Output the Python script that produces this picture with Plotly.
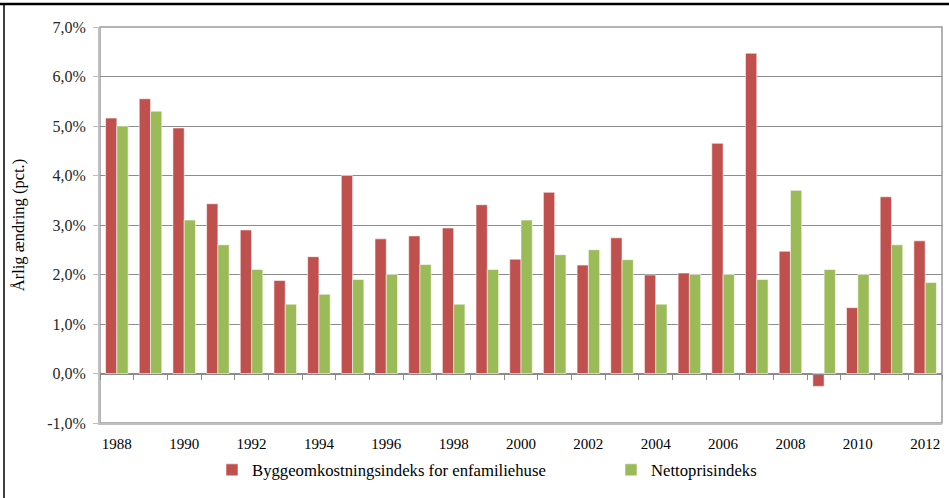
import numpy as np
import plotly.graph_objects as go

years = list(range(1988, 2013))
bygge = [5.16, 5.55, 4.96, 3.43, 2.90, 1.88, 2.36, 4.00, 2.72, 2.78, 2.94, 3.41,
         2.31, 3.66, 2.19, 2.74, 1.99, 2.03, 4.65, 6.47, 2.47, -0.26, 1.33, 3.57, 2.68]
netto = [5.0, 5.3, 3.1, 2.6, 2.1, 1.4, 1.6, 1.9, 2.0, 2.2, 1.4, 2.1,
         3.1, 2.4, 2.5, 2.3, 1.4, 2.0, 2.0, 1.9, 3.7, 2.1, 2.0, 2.6, 1.84]
name_bygge = "Byggeomkostningsindeks for enfamiliehuse"
name_netto = "Nettoprisindeks"
y_title = "Årlig ændring (pct.)"
y_ticks = list(range(-1, 8))
y_ticktext = [f"{v:.1f}%".replace(".", ",") for v in y_ticks]
x_ticks = years[::2]

W, H = 949, 498
ML, MR, MT, MB = 100, 7, 27, 75
pw, ph = W - ML - MR, H - MT - MB
ymin, ymax = y_ticks[0], y_ticks[-1]

serif = "Liberation Serif"

fig = go.Figure()
fig.add_trace(go.Bar(x=years, y=bygge, name=name_bygge, legend="legend",
                     marker=dict(color="#C0504D", line=dict(color="rgba(255,255,255,0.55)", width=1))))
fig.add_trace(go.Bar(x=years, y=netto, name=name_netto, legend="legend2",
                     marker=dict(color="#9BBB59", line=dict(color="rgba(255,255,255,0.55)", width=1))))
# carrier trace for the zero-line category axis
fig.add_trace(go.Scatter(x=[years[0]], y=[None], xaxis="x2", showlegend=False,
                         hoverinfo="skip", mode="markers"))

xr = [years[0] - 0.5, years[-1] + 0.5]
boundaries = list(np.arange(years[0] - 0.5, years[-1] + 1.0, 1.0))

legend_common = dict(orientation="h", xanchor="left", yanchor="middle",
                     y=(MT + ph - 470) / ph,
                     font=dict(family=serif, size=16.7, color="#000000"),
                     itemwidth=30, bgcolor="rgba(0,0,0,0)")

fig.update_layout(
    width=W, height=H,
    margin=dict(l=ML, r=MR, t=MT, b=MB, pad=0),
    paper_bgcolor="white", plot_bgcolor="white",
    barmode="group", bargap=0.33, bargroupgap=0,
    font=dict(family=serif, size=15, color="#000000"),
    xaxis=dict(range=xr, tickvals=x_ticks, ticks="", showgrid=False, zeroline=False,
               showline=True, linecolor="#bfbfbf", linewidth=2,
               tickfont=dict(family=serif, size=15, color="#000000"),
               ticklabelstandoff=6),
    xaxis2=dict(overlaying="x", anchor="free", position=(0 - ymin) / (ymax - ymin),
                range=xr, tickvals=boundaries, ticks="outside", ticklen=5,
                tickcolor="#8a8a8a", tickwidth=1, showticklabels=False,
                showgrid=False, zeroline=False, showline=True, linecolor="#8a8a8a", linewidth=1),
    yaxis=dict(range=[ymin, ymax], tickvals=y_ticks, ticktext=y_ticktext,
               ticks="outside", ticklen=5, tickcolor="#bfbfbf",
               showline=True, linecolor="#bfbfbf", linewidth=2,
               showgrid=True, gridcolor="#8c8c8c", gridwidth=1, zeroline=False,
               tickfont=dict(family=serif, size=16, color="#262626"),
               ticklabelstandoff=4,
               title=dict(text=y_title, font=dict(family=serif, size=16.5, color="#000000"), standoff=18)),
    legend=dict(legend_common, x=(212 - ML) / pw),
    legend2=dict(legend_common, x=(611 - ML) / pw),
    shapes=[
        dict(type="rect", xref="paper", yref="paper", x0=0, x1=1, y0=0, y1=1,
             line=dict(color="#9a9a9a", width=1.5), layer="below"),
        dict(type="line", xref="paper", yref="paper", x0=(0 - ML) / pw, x1=(W - ML) / pw,
             y0=(MT + ph - 4) / ph, y1=(MT + ph - 4) / ph, line=dict(color="#000000", width=2.5)),
        dict(type="line", xref="paper", yref="paper", x0=(4 - ML) / pw, x1=(4 - ML) / pw,
             y0=(MT + ph - 4) / ph, y1=(MT + ph - H) / ph, line=dict(color="#000000", width=1.5)),
    ],
)

fig.write_html("out.html", config={"displayModeBar": False},
               post_script="document.body.style.margin='0';")
